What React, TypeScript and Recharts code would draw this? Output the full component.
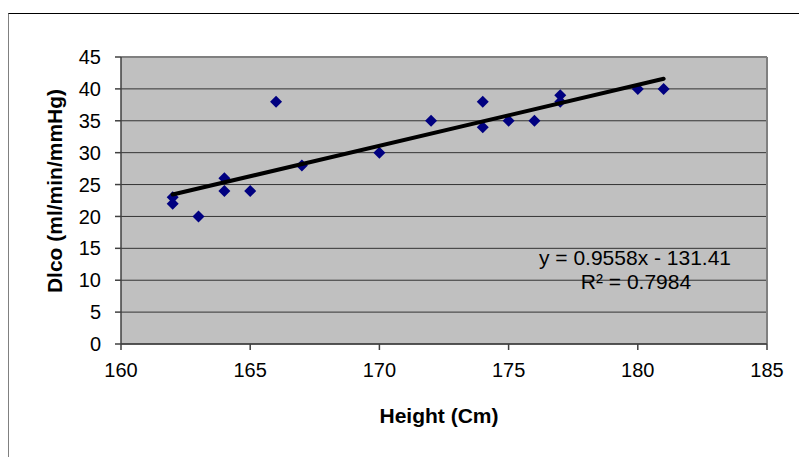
import React from 'react'
import {
  ScatterChart,
  Scatter,
  XAxis,
  YAxis,
  CartesianGrid,
  ReferenceLine,
  Label,
  Customized,
} from 'recharts'

// measured points (height cm vs Dlco)
const heights = [162, 162, 163, 164, 164, 165, 166, 167, 170, 172, 174, 174, 175, 176, 177, 177, 180, 181]
const dlco = [23, 22, 20, 26, 24, 24, 38, 28, 30, 35, 38, 34, 35, 35, 39, 38, 40, 40]

const xTicks = [160, 165, 170, 175, 180, 185]
const yTicks = [0, 5, 10, 15, 20, 25, 30, 35, 40, 45]

// linear trendline as printed on the chart
const slope = 0.9558
const intercept = -131.41
const trendRange = [162, 181]

const FONT = '"Liberation Sans", Arial, sans-serif'

const points = heights.map((h, i) => ({ x: h, y: dlco[i] }))
const trend = trendRange.map((x) => ({ x, y: slope * x + intercept }))

const Diamond = (props: any) => {
  const { cx, cy } = props
  if (cx == null || cy == null) return null
  const r = 6
  return (
    <path
      d={`M${cx},${cy - r}L${cx + r},${cy}L${cx},${cy + r}L${cx - r},${cy}Z`}
      fill="#000080"
    />
  )
}

const Equation = () => (
  <g style={{ fontFamily: FONT, fontSize: 21 }} fill="#000">
    <text x={635} y={265} textAnchor="middle">y = 0.9558x - 131.41</text>
    <text x={636} y={289} textAnchor="middle">R² = 0.7984</text>
  </g>
)

export default function App() {
  return (
    <div
      style={{
        position: 'absolute',
        left: 0,
        top: 0,
        width: 799,
        height: 457,
        overflow: 'hidden',
        background: '#fff',
        fontFamily: FONT,
      }}
    >
      <div
        style={{
          position: 'absolute',
          left: 8,
          top: 13,
          width: 900,
          height: 600,
          borderLeft: '1px solid #808080',
          borderTop: '1px solid #000',
        }}
      />
      <div style={{ position: 'absolute', left: 0, top: 0 }}>
        <ScatterChart
          width={799}
          height={457}
          margin={{ top: 57, right: 32, left: 0, bottom: 0 }}
        >
          <CartesianGrid
            vertical={false}
            horizontal={true}
            stroke="#333"
            fill="#C0C0C0"
            fillOpacity={1}
          />
          <XAxis
            type="number"
            dataKey="x"
            domain={[160, 185]}
            ticks={xTicks}
            height={113}
            tickSize={6}
            tickMargin={13}
            stroke="#404040"
            strokeWidth={1.5}
            tick={{ fill: '#000', fontSize: 20, fontFamily: FONT }}
            allowDataOverflow
          >
            <Label
              content={() => (
                <text
                  x={439}
                  y={423}
                  textAnchor="middle"
                  style={{ fontFamily: FONT, fontSize: 21, fontWeight: 'bold' }}
                  fill="#000"
                >
                  Height (Cm)
                </text>
              )}
            />
          </XAxis>
          <YAxis
            type="number"
            dataKey="y"
            domain={[0, 45]}
            ticks={yTicks}
            width={121}
            tickSize={6}
            tickMargin={14}
            stroke="#404040"
            strokeWidth={1.5}
            tick={{ fill: '#000', fontSize: 20, fontFamily: FONT }}
            allowDataOverflow
          >
            <Label
              content={() => (
                <text
                  x={62}
                  y={191}
                  transform="rotate(-90, 62, 191)"
                  textAnchor="middle"
                  style={{ fontFamily: FONT, fontSize: 21, fontWeight: 'bold' }}
                  fill="#000"
                >
                  Dlco (ml/min/mmHg)
                </text>
              )}
            />
          </YAxis>
          <ReferenceLine x={185} stroke="#808080" strokeWidth={2} />
          <ReferenceLine y={45} stroke="#808080" strokeWidth={2} />
          <Scatter data={points} shape={<Diamond />} isAnimationActive={false} />
          <Scatter
            data={trend}
            line={{ stroke: '#000', strokeWidth: 4, strokeLinecap: 'round' }}
            shape={() => null}
            isAnimationActive={false}
          />
          <Customized component={Equation} />
        </ScatterChart>
      </div>
    </div>
  )
}
